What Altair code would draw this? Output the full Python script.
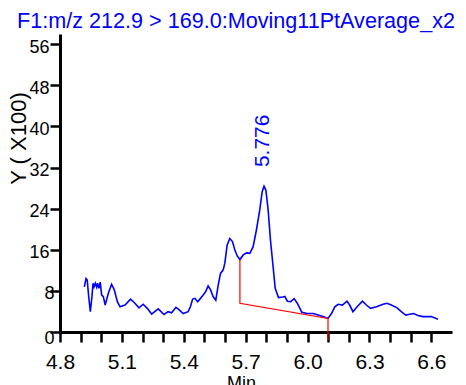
import altair as alt
import pandas as pd

# ---- data ----
time_min = [4.918, 4.926, 4.932, 4.939, 4.947, 4.955, 4.960, 4.965, 4.971, 4.978,
            4.982, 4.989, 4.995, 5.002, 5.010, 5.019, 5.034, 5.050, 5.063, 5.078,
            5.091, 5.115, 5.142, 5.163, 5.183, 5.203, 5.223, 5.244, 5.276, 5.304,
            5.324, 5.341, 5.362, 5.378, 5.397, 5.421, 5.432, 5.443, 5.454, 5.467,
            5.478, 5.494, 5.506, 5.518, 5.530, 5.542, 5.555, 5.567, 5.578, 5.591,
            5.599, 5.610, 5.623, 5.636, 5.647, 5.659, 5.672, 5.688, 5.704, 5.720,
            5.736, 5.752, 5.768, 5.780, 5.789, 5.798, 5.809, 5.820, 5.833, 5.843,
            5.859, 5.880, 5.890, 5.902, 5.918, 5.935, 5.950, 5.972, 5.998, 6.027,
            6.051, 6.075, 6.099, 6.116, 6.132, 6.148, 6.169, 6.191, 6.204, 6.220,
            6.240, 6.266, 6.285, 6.305, 6.334, 6.366, 6.385, 6.406, 6.434, 6.454,
            6.476, 6.495, 6.514, 6.535, 6.559, 6.600, 6.632]
intensity = [8.8, 10.4, 10.1, 6.9, 3.95, 6.9, 9.5, 8.8, 9.5, 8.7,
             9.5, 8.5, 9.7, 7.2, 6.9, 5.25, 7.5, 9.3, 8.2, 5.9,
             4.9, 5.25, 6.4, 5.6, 4.7, 5.4, 4.6, 3.5, 4.5, 3.4,
             3.95, 3.75, 4.8, 4.3, 3.6, 3.95, 4.9, 6.4, 6.55, 5.9,
             6.4, 7.2, 7.85, 8.95, 8.2, 6.9, 6.2, 9.15, 11.4, 12.1,
             13.4, 16.9, 18.2, 17.6, 16.0, 14.8, 14.1, 15.0, 15.4, 15.3,
             16.6, 19.85, 23.7, 27.3, 28.4, 27.6, 23.7, 17.9, 12.7, 8.5,
             6.7, 6.8, 6.9, 6.0, 5.9, 6.5, 5.6, 3.85, 3.6, 3.6,
             3.3, 3.0, 2.65, 3.6, 4.9, 5.4, 5.25, 6.0, 5.25, 3.95,
             4.9, 6.0, 5.25, 4.6, 4.9, 5.4, 5.6, 5.25, 4.7, 3.95,
             3.3, 3.45, 3.6, 3.2, 3.0, 3.0, 2.5]

base_time = [5.672, 5.672, 6.099, 6.099]
base_level = [14.1, 5.6, 2.65, -1.6]

peak_label = "5.776"

x_ticks = [4.8, 4.9, 5.0, 5.1, 5.2, 5.3, 5.4, 5.5, 5.6, 5.7,
           5.8, 5.9, 6.0, 6.1, 6.2, 6.3, 6.4, 6.5, 6.6]
y_ticks = [0, 8, 16, 24, 32, 40, 48, 56]

title_text = "F1:m/z 212.9 > 169.0:Moving11PtAverage_x2"
x_title = "Min"
y_title = "Y ( X100)"

FONT = "Liberation Sans"
BLUE = "#0000ff"
RED = "#ff0000"

trace_df = pd.DataFrame({"t": time_min, "v": intensity})
base_df = pd.DataFrame({"t": base_time, "v": base_level, "i": list(range(len(base_time)))})
imax = intensity.index(max(intensity))
peak_df = pd.DataFrame({"t": [time_min[imax]], "v": [intensity[imax]], "lab": [peak_label]})
title_df = pd.DataFrame({"txt": [title_text]})

x_scale = alt.Scale(domain=[4.8, 6.7], nice=False, zero=False)
y_scale = alt.Scale(domain=[0, 58], nice=False)

x_axis = alt.Axis(
    values=x_ticks, tickCount=40,
    labelExpr="abs(round(datum.value*10) % 3) == 0 ? format(datum.value, '.1f') : ''",
    title=x_title, titleFontSize=18, titleFont=FONT, titleFontWeight="normal",
    titleX=181, titleY=42, titleBaseline="top", titleAlign="center", titleColor="black",
    labelFont=FONT, labelFontSize=21, labelColor="black", labelPadding=9,
    labelFlush=False, labelOverlap=False,
    tickSize=10, tickWidth=2.5, tickColor="black",
    domainColor="black", domainWidth=3, grid=False,
)
y_axis = alt.Axis(
    values=y_ticks, tickCount=40, title=y_title, titleFontSize=22, titleFont=FONT,
    titleFontWeight="normal", titleAngle=270, titleX=-42, titleY=104,
    titleBaseline="middle", titleAlign="center", titleColor="black",
    labelFont=FONT, labelFontSize=18, labelColor="black",
    labelPadding={"condition": {"test": "datum.value < 10", "value": -4}, "value": 1},
    labelOffset={"condition": {"test": "datum.value === 0", "value": 6}, "value": 3},
    labelFlush=False, labelOverlap=False,
    tickSize=10, tickWidth=2.5, tickColor="black",
    domainColor="black", domainWidth=3, grid=False,
)

trace = alt.Chart(trace_df).mark_line(color=BLUE, strokeWidth=1.6).encode(
    x=alt.X("t:Q", scale=x_scale, axis=x_axis),
    y=alt.Y("v:Q", scale=y_scale, axis=y_axis),
)

base = alt.Chart(base_df).mark_line(color=RED, strokeWidth=1.2).encode(
    x=alt.X("t:Q", scale=x_scale),
    y=alt.Y("v:Q", scale=y_scale),
    order="i:O",
)

label = alt.Chart(peak_df).mark_text(
    angle=270, align="left", baseline="middle", dx=19, dy=-1,
    color=BLUE, font=FONT, fontSize=21,
).encode(
    x=alt.X("t:Q", scale=x_scale),
    y=alt.Y("v:Q", scale=y_scale),
    text="lab:N",
)

title = alt.Chart(title_df).mark_text(
    align="left", baseline="alphabetic", color=BLUE, font=FONT, fontSize=21.6,
).encode(
    x=alt.value(-43),
    y=alt.value(-6),
    text="txt:N",
)

chart = alt.layer(trace, base, label, title).properties(
    width=392, height=298,
    padding={"left": 52, "top": 26, "right": 6, "bottom": 53},
    autosize="none",
).configure_view(strokeWidth=0)

chart.save("out.html", embed_options={"renderer": "svg", "actions": False})
